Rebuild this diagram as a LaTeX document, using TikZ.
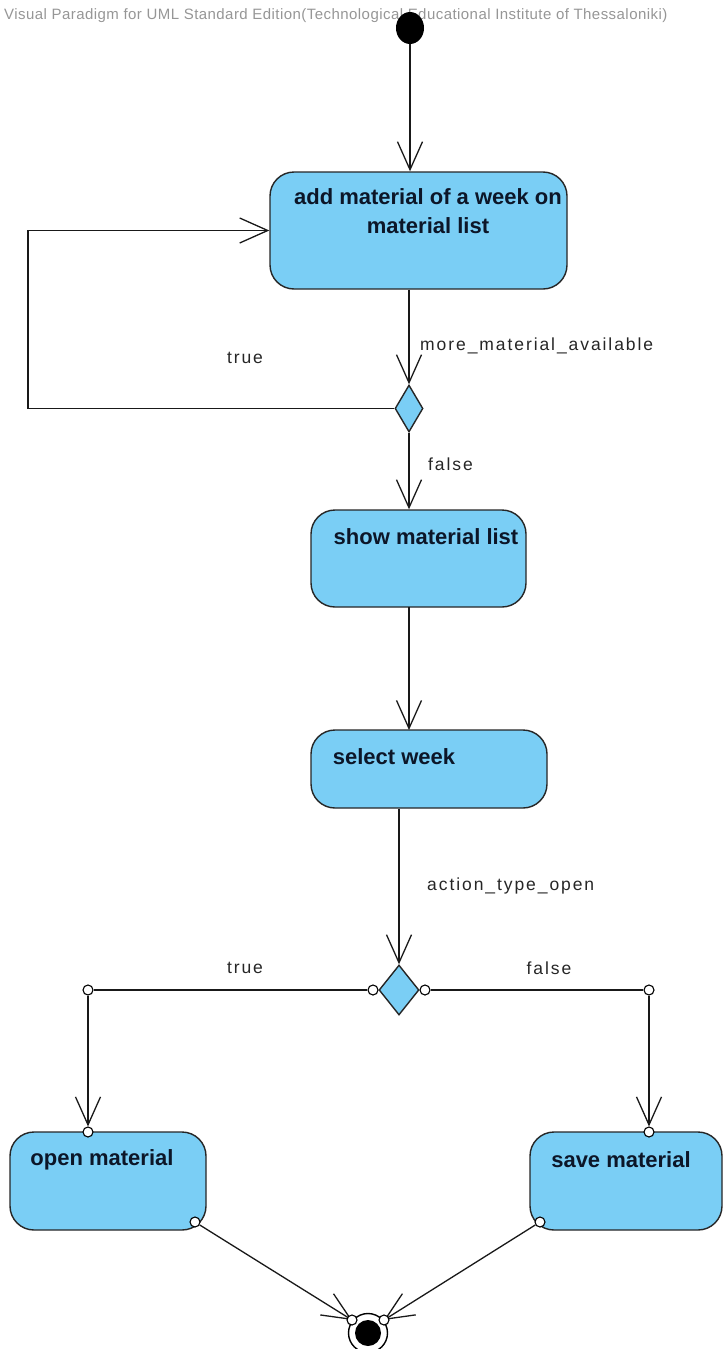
\documentclass[tikz,border=0pt]{standalone}
\usepackage{fontspec}
\setmainfont{Liberation Sans}
\usetikzlibrary{arrows.meta,shapes.geometric}
\definecolor{actfill}{RGB}{122,206,245}
\definecolor{wmgray}{RGB}{150,150,150}
\definecolor{inkdark}{RGB}{12,22,40}
\pgfdeclarelayer{front}
\pgfsetlayers{main,front}
\begin{document}
\begin{tikzpicture}[x=1pt,y=-1pt,
  action/.style={draw=black!85, line width=1.4pt, fill=actfill, rounded corners=24pt, inner sep=0pt},
  acttext/.style={font=\fontsize{22}{29}\selectfont\bfseries, text=inkdark, align=center, inner sep=0pt},
  decision/.style={diamond, draw=black!85, line width=1.4pt, fill=actfill, inner sep=0pt, aspect=1},
  pinball/.style={circle, draw=black, line width=1.1pt, fill=white, minimum size=10pt, inner sep=0pt},
  guard/.style={font=\fontsize{17.5}{20}\selectfont\addfontfeatures{LetterSpace=11}, text=black!85, inner sep=0pt},
  flow/.style={draw=black!90, line width=1.3pt, -{Straight Barb[length=28pt,width=25pt,line width=1.3pt]}},
  plain/.style={draw=black!90, line width=1.3pt}
]
\useasboundingbox (0,0) rectangle (723,1349);

% tool watermark
\node[anchor=west, font=\fontsize{15}{16}\selectfont\addfontfeatures{LetterSpace=3}, text=wmgray, inner sep=0pt] (wm) at (4,16)
  {Visual Paradigm for UML Standard Edition(Technological Educational Institute of Thessaloniki)};

% initial node
\node[ellipse, fill=black, minimum width=28pt, minimum height=32pt, inner sep=0pt] (init) at (410,28) {};

% actions
\node[action, minimum width=297pt, minimum height=117pt] (add) at (418.5,230.5) {};
\node[acttext] (addtxt) at (428,211.5) {add material of a week on\\material list};

\node[decision, minimum width=28pt, minimum height=47pt] (dec1) at (409,408.5) {};

\node[action, minimum width=215pt, minimum height=97pt] (show) at (418.5,558.5) {};
\node[acttext] (showtxt) at (426,537) {show material list};

\node[action, minimum width=236pt, minimum height=78pt] (select) at (429,769) {};
\node[acttext] (selecttxt) at (394,757) {select week};

\node[decision, minimum width=40pt, minimum height=50pt] (dec2) at (399,990) {};

\node[action, minimum width=196pt, minimum height=98pt] (open) at (108,1181) {};
\node[acttext] (opentxt) at (102,1160) {open material};

\node[action, minimum width=192pt, minimum height=98pt] (save) at (626,1181) {};
\node[acttext] (savetxt) at (621,1160) {save material};

% final node
\node[circle, draw=black, line width=1.4pt, fill=white, minimum size=39pt, inner sep=0pt] (final) at (368,1333) {};
\node[circle, fill=black, minimum size=26pt, inner sep=0pt] (finaldot) at (368,1333) {};

% pins drawn above the flows
\begin{pgfonlayer}{front}
  \node[pinball] (d2l) at (373,990) {};
  \node[pinball] (d2r) at (425,990) {};
  \node[pinball] (tl) at (88,990) {};
  \node[pinball] (tr) at (649,990) {};
  \node[pinball] (openin) at (88,1132) {};
  \node[pinball] (savein) at (649,1132) {};
  \node[pinball] (openout) at (195,1222) {};
  \node[pinball] (saveout) at (540,1222) {};
  \node[pinball] (finl) at (352,1320) {};
  \node[pinball] (finr) at (384,1320) {};
\end{pgfonlayer}

% loop corners
\coordinate (loopA) at (28,408.5);
\coordinate (loopB) at (28,230.5);

% flows
\draw[flow] (init.south) -- (init.south |- add.north);
\draw[flow] (dec1.north |- add.south) -- (dec1.north);
\draw[flow] (dec1.west) -- (loopA) -- (loopB) -- (add.west);
\draw[flow] (dec1.south) -- (dec1.south |- show.north);
\draw[flow] (409,607) -- (409,730);
\draw[flow] (dec2.north |- select.south) -- (dec2.north);
\draw[plain] (d2l) -- (tl);
\draw[plain] (d2r) -- (tr);
\draw[flow] (tl) -- (openin.north);
\draw[flow] (tr) -- (savein.north);
\draw[flow] (openout) -- (finl.center);
\draw[flow] (saveout) -- (finr.center);

% guards
\node[guard, anchor=west] (g1) at (420,346) {more\_material\_available};
\node[guard] (g2) at (245,358) {true};
\node[guard, anchor=west] (g3) at (428,464) {false};
\node[guard, anchor=west] (g4) at (427,886) {action\_type\_open};
\node[guard] (g5) at (245,968) {true};
\node[guard] (g6) at (549,968) {false};
\end{tikzpicture}
\end{document}
